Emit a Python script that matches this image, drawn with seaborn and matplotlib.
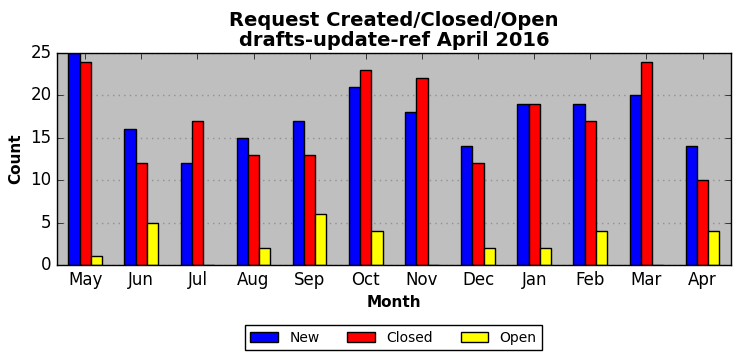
import numpy as np
import pandas as pd
import matplotlib
matplotlib.use("Agg")
import matplotlib.pyplot as plt
import seaborn as sns

months = ['May', 'Jun', 'Jul', 'Aug', 'Sep', 'Oct', 'Nov', 'Dec', 'Jan', 'Feb', 'Mar', 'Apr']
new = [25, 16, 12, 15, 17, 21, 18, 14, 19, 19, 20, 14]
closed = [24, 12, 17, 13, 13, 23, 22, 12, 19, 17, 24, 10]
opened = [1, 5, 0, 2, 6, 4, 0, 2, 2, 4, 0, 4]

df = pd.DataFrame({'Month': months * 3,
                   'Count': new + closed + opened,
                   'Status': ['New'] * 12 + ['Closed'] * 12 + ['Open'] * 12})

plt.style.use('classic')
fig = plt.figure(figsize=(7.41, 3.61), dpi=100)
ax = fig.add_axes([0.077, 0.266, 0.909, 0.587])
ax.set_facecolor('#bfbfbf')

sns.barplot(data=df, x='Month', y='Count', hue='Status', order=months,
            palette=['blue', 'red', 'yellow'], width=0.6, ax=ax,
            edgecolor='black', linewidth=1, saturation=1)

ax.set_xlim(-0.5, 11.5)
ax.set_ylim(0, 25)
ax.set_yticks(range(0, 26, 5))
ax.yaxis.grid(True, linestyle=':', color='#909090', linewidth=1)
ax.set_axisbelow(True)
ax.set_xlabel('Month', fontsize=11, fontweight='bold')
ax.set_ylabel('Count', fontsize=11, fontweight='bold')
ax.set_title('Request Created/Closed/Open\ndrafts-update-ref April 2016',
             fontsize=14, fontweight='bold', linespacing=1.1)

ax.get_legend().remove()
handles, labels = ax.get_legend_handles_labels()
fig.legend(handles, labels, loc='center', bbox_to_anchor=(0.531, 0.064), ncol=3,
           fontsize=10, frameon=True, fancybox=False, handlelength=2.0,
           columnspacing=2.0)

fig.savefig('out.png', dpi=100)
